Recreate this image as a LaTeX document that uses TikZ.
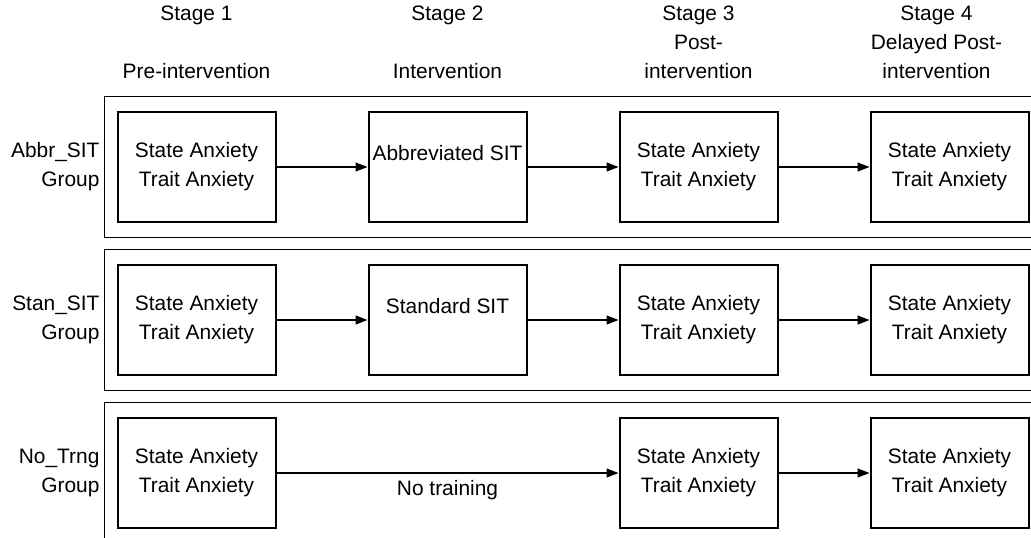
\documentclass[tikz,border=0pt]{standalone}
\usepackage{fontspec}
\setmainfont{Liberation Sans}
\usepackage{tikz}
\usetikzlibrary{arrows.meta, positioning, fit}
\tikzstyle{block} = [rectangle, minimum width=79pt, minimum height=55pt, inner sep=1pt, align=center, draw=black, line width=1pt]
\tikzstyle{groupbox} = [rectangle, draw=black, line width=0.7pt, inner xsep=6pt, inner ysep=7.25pt]
\tikzstyle{grouplabel} = [align=right, inner sep=0pt]
\tikzstyle{stagehead} = [align=center, inner sep=0pt]
\tikzstyle{arrow} = [line width=0.55pt,->,>={Triangle[length=6pt,width=4.5pt]}]

\begin{document}
\begin{tikzpicture}[node distance=20.5pt and 45.5pt]
\fontsize{10.45pt}{14.5pt}\selectfont
\clip (0,0) rectangle (515.5pt,-268.5pt);
% Abbreviated SIT group
\node (abbrPre) [block] at (98.25pt,-83.5pt) {State Anxiety\\Trait Anxiety};
\node (abbrInt) [block, right=of abbrPre] {Abbreviated SIT\\\mbox{}};
\node (abbrPost) [block, right=of abbrInt] {State Anxiety\\Trait Anxiety};
\node (abbrDel) [block, right=of abbrPost] {State Anxiety\\Trait Anxiety};
% Standard SIT group
\node (stanPre) [block, below=of abbrPre] {State Anxiety\\Trait Anxiety};
\node (stanInt) [block, right=of stanPre] {Standard SIT\\\mbox{}};
\node (stanPost) [block, right=of stanInt] {State Anxiety\\Trait Anxiety};
\node (stanDel) [block, right=of stanPost] {State Anxiety\\Trait Anxiety};
% No training group
\node (noPre) [block, below=of stanPre] {State Anxiety\\Trait Anxiety};
\node (noPost) [block, below=of stanPost] {State Anxiety\\Trait Anxiety};
\node (noDel) [block, right=of noPost] {State Anxiety\\Trait Anxiety};
% Group frames and labels
\node (abbrGroup) [groupbox, fit=(abbrPre)(abbrDel)] {};
\node (stanGroup) [groupbox, fit=(stanPre)(stanDel)] {};
\node (noGroup) [groupbox, fit=(noPre)(noDel)] {};
\node (abbrLabel) [grouplabel, left=2pt of abbrGroup] {Abbr\_SIT\\Group};
\node (stanLabel) [grouplabel, left=2pt of stanGroup] {Stan\_SIT\\Group};
\node (noLabel) [grouplabel, left=2pt of noGroup] {No\_Trng\\Group};
% Stage headings
\node (stageOne) [stagehead, above=15.75pt of abbrPre] {Stage 1\\\mbox{}\\Pre-intervention};
\node (stageTwo) [stagehead, above=15.75pt of abbrInt] {Stage 2\\\mbox{}\\Intervention};
\node (stageThree) [stagehead, above=15.75pt of abbrPost] {Stage 3\\Post-\\intervention};
\node (stageFour) [stagehead, above=15.75pt of abbrDel, xshift=-6.5pt] {Stage 4\\Delayed Post-\\intervention};
% Connect nodes with arrows
\draw [arrow] (abbrPre) -- (abbrInt);
\draw [arrow] (abbrInt) -- (abbrPost);
\draw [arrow] (abbrPost) -- (abbrDel);
\draw [arrow] (stanPre) -- (stanInt);
\draw [arrow] (stanInt) -- (stanPost);
\draw [arrow] (stanPost) -- (stanDel);
\draw [arrow] (noPre) -- node (noTrain) [below=3.5pt, inner sep=0pt] {No training} (noPost);
\draw [arrow] (noPost) -- (noDel);
\end{tikzpicture}
\end{document}
